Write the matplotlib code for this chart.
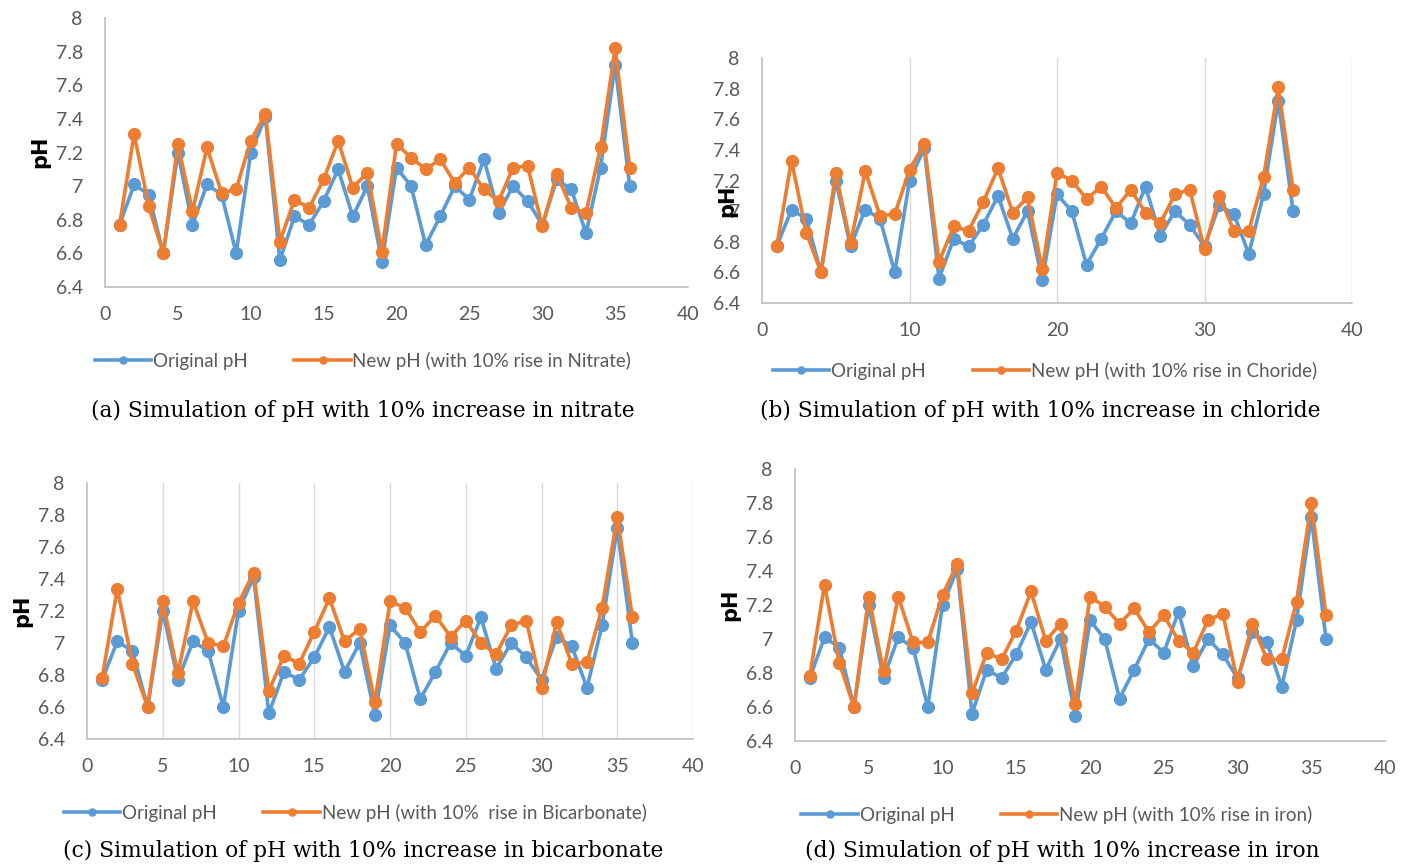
import matplotlib
matplotlib.use("Agg")
import matplotlib.pyplot as plt
from matplotlib.ticker import FuncFormatter, MultipleLocator

# sample number (x axis) and the original pH shared by all four panels
sample = list(range(1, 37))
original_ph = [6.77, 7.01, 6.95, 6.60, 7.20, 6.77, 7.01, 6.95, 6.60, 7.20,
               7.41, 6.56, 6.82, 6.77, 6.91, 7.10, 6.82, 7.00, 6.55, 7.11,
               7.00, 6.65, 6.82, 7.00, 6.92, 7.16, 6.84, 7.00, 6.91, 6.77,
               7.04, 6.98, 6.72, 7.11, 7.72, 7.00]

ph_nitrate = [6.77, 7.31, 6.88, 6.60, 7.25, 6.85, 7.23, 6.96, 6.98, 7.27,
              7.43, 6.67, 6.92, 6.87, 7.04, 7.27, 6.99, 7.08, 6.61, 7.25,
              7.17, 7.10, 7.16, 7.02, 7.11, 6.98, 6.91, 7.11, 7.12, 6.76,
              7.07, 6.87, 6.84, 7.23, 7.82, 7.11]

ph_chloride = [6.77, 7.33, 6.86, 6.60, 7.25, 6.79, 7.26, 6.97, 6.98, 7.27,
               7.44, 6.67, 6.90, 6.87, 7.06, 7.28, 6.99, 7.09, 6.62, 7.25,
               7.20, 7.08, 7.16, 7.02, 7.14, 6.99, 6.92, 7.11, 7.14, 6.75,
               7.10, 6.87, 6.87, 7.22, 7.81, 7.14]

ph_bicarbonate = [6.78, 7.34, 6.87, 6.60, 7.26, 6.81, 7.26, 7.00, 6.98, 7.25,
                  7.44, 6.70, 6.92, 6.87, 7.07, 7.28, 7.01, 7.09, 6.63, 7.26,
                  7.22, 7.07, 7.17, 7.04, 7.14, 7.00, 6.93, 7.11, 7.14, 6.72,
                  7.13, 6.87, 6.88, 7.22, 7.79, 7.16]

ph_iron = [6.78, 7.32, 6.86, 6.60, 7.25, 6.81, 7.25, 6.98, 6.98, 7.26,
           7.44, 6.68, 6.92, 6.88, 7.05, 7.28, 6.99, 7.09, 6.62, 7.25,
           7.19, 7.09, 7.18, 7.04, 7.14, 6.99, 6.92, 7.11, 7.15, 6.75,
           7.09, 6.88, 6.88, 7.22, 7.80, 7.14]

new_labels = ["New pH (with 10% rise in Nitrate)",
              "New pH (with 10% rise in Choride)",
              "New pH (with 10%  rise in Bicarbonate)",
              "New pH (with 10% rise in iron)"]
captions = ["(a) Simulation of pH with 10% increase in nitrate",
            "(b) Simulation of pH with 10% increase in chloride",
            "(c) Simulation of pH with 10% increase in bicarbonate",
            "(d) Simulation of pH with 10% increase in iron"]
new_series = [ph_nitrate, ph_chloride, ph_bicarbonate, ph_iron]

W, H = 1418, 866
BLUE = "#5B9BD5"
ORANGE = "#ED7D31"
GRAY_TXT = "#595959"
AXIS_GRAY = "#BFBFBF"
GRID_GRAY = "#D9D9D9"

# panel boxes in pixels: left, right, top, bottom; grid step (None = no grid); x tick step
panels = [
    dict(box=(105, 688, 18, 287), grid=None, xstep=5, ylab=(40, 152),
         leg=(363, 361), cap=(363, 411)),
    dict(box=(762, 1352, 58, 303), grid=10, xstep=10, ylab=(727, 201),
         leg=(1045, 371), cap=(1040, 411)),
    dict(box=(87, 693, 483, 739), grid=5, xstep=5, ylab=(22, 611),
         leg=(355, 813), cap=(363, 851)),
    dict(box=(795, 1385, 469, 741), grid=None, xstep=5, ylab=(730, 605),
         leg=(1057, 815), cap=(1062, 851)),
]

plt.rcParams['font.family'] = ['Lato', 'DejaVu Sans']
fig = plt.figure(figsize=(W / 100, H / 100), dpi=100)


def fmt(v, pos):
    return f"{v:g}"


for p, new_ph, lab, cap in zip(panels, new_series, new_labels, captions):
    l, r, t, b = p['box']
    ax = fig.add_axes([l / W, 1 - b / H, (r - l) / W, (b - t) / H])
    ax.plot(sample, original_ph, color=BLUE, lw=2.6, marker='o', ms=8.5,
            label="Original pH", zorder=3)
    ax.plot(sample, new_ph, color=ORANGE, lw=2.6, marker='o', ms=8.5,
            label=lab, zorder=4)
    ax.set_xlim(0, 40)
    ax.set_ylim(6.4, 8)
    ax.xaxis.set_major_locator(MultipleLocator(p['xstep']))
    ax.yaxis.set_major_locator(MultipleLocator(0.2))
    ax.yaxis.set_major_formatter(FuncFormatter(fmt))
    ax.tick_params(length=0, labelsize=14, labelcolor=GRAY_TXT)
    ax.tick_params(axis='x', pad=14)
    ax.tick_params(axis='y', pad=16)
    if p['grid']:
        for gx in range(p['grid'], 41, p['grid']):
            ax.axvline(gx, color=GRID_GRAY, lw=1, zorder=1)
    for s in ['top', 'right']:
        ax.spines[s].set_visible(False)
    for s in ['left', 'bottom']:
        ax.spines[s].set_color(AXIS_GRAY)
        ax.spines[s].set_linewidth(1.2)

    fig.text(p['ylab'][0] / W, 1 - p['ylab'][1] / H, "pH", rotation=90,
             ha='center', va='center', fontsize=15, fontweight='bold',
             family=['DejaVu Sans'])

    leg = ax.legend(loc='center', bbox_to_anchor=(p['leg'][0] / W, 1 - p['leg'][1] / H),
                    bbox_transform=fig.transFigure, ncol=2, frameon=False,
                    fontsize=13.5, handlelength=3.0, columnspacing=2.5,
                    handletextpad=0.1, markerscale=0.6)
    for txt in leg.get_texts():
        txt.set_color(GRAY_TXT)

    fig.text(p['cap'][0] / W, 1 - p['cap'][1] / H, cap, ha='center', va='center',
             fontsize=15.7, family=['DejaVu Serif'])

fig.savefig("out.png", dpi=100)
